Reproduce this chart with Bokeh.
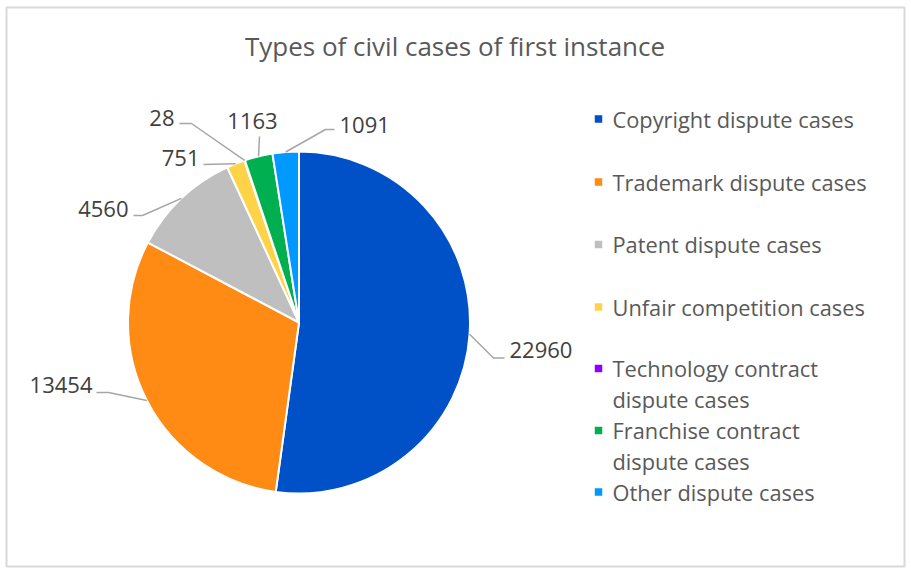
import math
from bokeh.plotting import figure
from bokeh.models import Range1d, ColumnDataSource
from bokeh.core.properties import value
from bokeh.embed import file_html
from bokeh.resources import INLINE

# --- data -------------------------------------------------------------
categories = [
    "Copyright dispute cases",
    "Trademark dispute cases",
    "Patent dispute cases",
    "Unfair competition cases",
    "Technology contract dispute cases",
    "Franchise contract dispute cases",
    "Other dispute cases",
]
legend_lines = [
    ["Copyright dispute cases"],
    ["Trademark dispute cases"],
    ["Patent dispute cases"],
    ["Unfair competition cases"],
    ["Technology contract", "dispute cases"],
    ["Franchise contract", "dispute cases"],
    ["Other dispute cases"],
]
cases = [22960, 13454, 4560, 751, 28, 1163, 1091]
colors = ["#0050C8", "#FF8A14", "#BFBFBF", "#FFD347", "#9000FF", "#00B050", "#0099FF"]
title = "Types of civil cases of first instance"

# --- layout (screen pixels, y measured downward) ----------------------
W, H = 911, 573
CX, CY, R = 298.5, 322.0, 171.0
FONT = "Open Sans"

def sy(y):
    return H - y

# label placement for each slice: text point, alignment, leader path after the edge point
label_layout = [
    dict(tx=509, ty=349, align="left",   path=[(493, 357.5), (504, 357.5)]),
    dict(tx=92,  ty=384, align="right",  path=[(108, 392), (96, 392)]),
    dict(tx=128, ty=208, align="right",  path=[(142, 215), (133, 215)]),
    dict(tx=199, ty=157, align="right",  path=[(203, 164)]),
    dict(tx=174, ty=117, align="right",  path=[(191, 123), (179, 123)]),
    dict(tx=252, ty=120, align="center", path=[(259, 136)]),
    dict(tx=339, ty=124, align="left",   path=[(325, 129), (334, 129)]),
]

p = figure(width=W, height=H, output_backend="svg", toolbar_location=None,
           x_range=Range1d(0, W), y_range=Range1d(0, H), min_border=0)
p.axis.visible = False
p.grid.visible = False
p.outline_line_color = None
p.background_fill_color = "white"
p.border_fill_color = "white"

# chart frame
p.quad(left=[6], right=[904], top=[sy(7)], bottom=[sy(566)],
       fill_color=None, line_color="#D9D9D9", line_width=2)

# title
p.text(x=[W / 2 - 1], y=[sy(45)], text=[title], text_align="center", text_baseline="middle",
       text_font=value(FONT), text_font_size="26px", text_color="#595959")

# pie wedges, clockwise from 12 o'clock
total = float(sum(cases))
starts, ends, mids = [], [], []
acc = 0.0
for v in cases:
    a0 = acc / total * 2 * math.pi
    acc += v
    a1 = acc / total * 2 * math.pi
    starts.append(math.pi / 2 - a1)
    ends.append(math.pi / 2 - a0)
    mids.append((a0 + a1) / 2)

src = ColumnDataSource(dict(start=starts, end=ends, color=colors, cat=categories, val=cases))
p.wedge(x=CX, y=sy(CY), radius=R, start_angle="start", end_angle="end",
        fill_color="color", line_color="white", line_width=2, source=src)

# leader lines and value labels
xs, ys = [], []
for m, lay in zip(mids, label_layout):
    ex = CX + R * math.sin(m)
    ey = CY - R * math.cos(m)
    pts = [(ex, ey)] + lay["path"]
    xs.append([pt[0] for pt in pts])
    ys.append([sy(pt[1]) for pt in pts])
p.multi_line(xs=xs, ys=ys, line_color="#A6A6A6", line_width=1.5)

for v, lay in zip(cases, label_layout):
    p.text(x=[lay["tx"]], y=[sy(lay["ty"])], text=[str(v)], text_align=lay["align"],
           text_baseline="middle", text_font=value(FONT), text_font_size="22px",
           text_color="#404040")

# legend
row_y = [118.5, 181.5, 244, 306.5, 368, 430, 491.5]
line_gap = 31
for lines, col, y0 in zip(legend_lines, colors, row_y):
    p.rect(x=[598], y=[sy(y0)], width=7.5, height=7.5, fill_color=col, line_color=None)
    for k, t in enumerate(lines):
        p.text(x=[612], y=[sy(y0 + k * line_gap)], text=[t], text_align="left",
               text_baseline="middle", text_font=value(FONT), text_font_size="21.8px",
               text_color="#595959")

open("out.html", "w").write(file_html(p, INLINE))
